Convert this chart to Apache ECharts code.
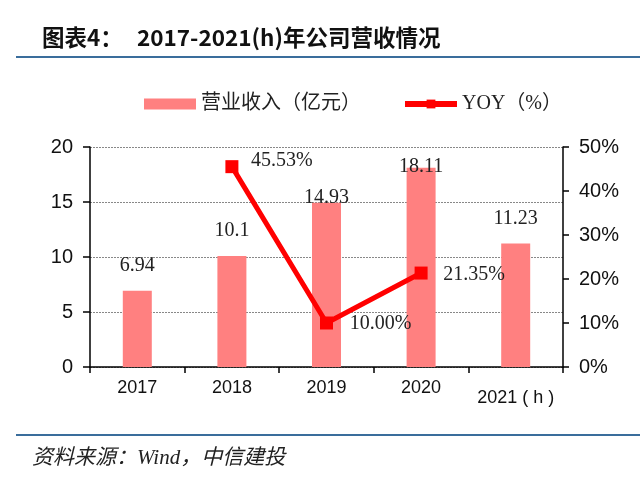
<!DOCTYPE html>
<html>
<head>
<meta charset="utf-8">
<script src="https://cdn.jsdelivr.net/npm/echarts@6/dist/echarts.min.js"></script>
<style>
  html, body { margin: 0; padding: 0; background: #fff; }
  #chart { width: 640px; height: 495px; }
</style>
</head>
<body>
<div id="chart"></div>
<script>
// data
var years = ['2017', '2018', '2019', '2020', '2021 ( h )'];
var revenue = [6.94, 10.1, 14.93, 18.11, 11.23];
var yoy = [null, 45.53, 10.00, 21.35, null];

// label nudges, the source chart placed these by hand
var barLabelLift = [15, 15, -5, -9, 15];
var yoyLabelShift = [[0, 0], [50, -6], [54, 1], [53, 2], [0, 0]];

var serif = '"Liberation Serif", "DejaVu Serif", "Noto Sans CJK SC", serif';
var sans = '"Liberation Sans", Arial, "Noto Sans CJK SC", sans-serif';
var cjkBold = '"Noto Sans CJK SC", sans-serif';

function buildBars() {
    return revenue.map(function (v, i) {
        return { value: v, label: { distance: barLabelLift[i] } };
    });
}

function buildYoy() {
    return yoy.map(function (v, i) {
        return { value: v, label: { offset: yoyLabelShift[i] } };
    });
}

var myChart = echarts.init(document.getElementById('chart'));

var option = {
    backgroundColor: '#fff',
    animation: false,
    title: {
        text: '{a|图表4：}{b|2017-2021(h)年公司营收情况}',
        left: 37,
        top: 21,
        textStyle: {
            rich: {
                a: { fontFamily: cjkBold, fontWeight: 'bold', fontSize: 22.5, color: '#111', width: 95 },
                b: { fontFamily: cjkBold, fontWeight: 'bold', fontSize: 22.5, color: '#111' }
            }
        }
    },
    graphic: [
        { type: 'rect', shape: { x: 16, y: 56, width: 624, height: 2 }, style: { fill: '#3a6d9c' } },
        { type: 'rect', shape: { x: 16, y: 434, width: 624, height: 2 }, style: { fill: '#3a6d9c' } },
        {
            type: 'text', left: 32, top: 448,
            style: {
                text: '资料来源：Wind，中信建投',
                font: 'italic 21px "Liberation Serif", "Noto Sans CJK SC", serif',
                fill: '#222'
            }
        }
    ],
    legend: {
        top: 89,
        left: 139,
        itemGap: 41,
        textStyle: { fontFamily: serif, fontSize: 20, color: '#222' },
        data: [
            { name: '营业收入（亿元）', icon: 'rect', itemStyle: { color: '#ff8080' }, itemHeight: 8 },
            { name: 'YOY（%）', itemStyle: { color: '#ff0000' }, lineStyle: { width: 6 } }
        ],
        itemWidth: 52,
        itemHeight: 11
    },
    grid: { left: 90, right: 77, top: 147, bottom: 128 },
    xAxis: {
        type: 'category',
        data: years,
        axisLine: { lineStyle: { color: '#000', width: 1.5 } },
        axisTick: { show: true, length: 6, lineStyle: { color: '#000', width: 1.5 } },
        axisLabel: {
            interval: 0,
            margin: 12,
            fontFamily: sans,
            fontSize: 18,
            color: '#111',
            formatter: function (v, i) {
                return i === 4 ? '{h|' + v + '}' : v;
            },
            rich: { h: { fontFamily: sans, fontSize: 18, color: '#111', padding: [10, 0, 0, 0] } }
        }
    },
    yAxis: [
        {
            type: 'value',
            min: 0, max: 20, interval: 5,
            axisLine: { show: true, lineStyle: { color: '#000', width: 1.5 } },
            axisTick: { show: true, length: 7, lineStyle: { color: '#000', width: 1.5 } },
            axisLabel: { fontFamily: sans, fontSize: 20, color: '#111', margin: 17 },
            splitLine: { lineStyle: { color: '#888', type: [2, 1], width: 1 } }
        },
        {
            type: 'value',
            min: 0, max: 50, interval: 10,
            position: 'right',
            axisLine: { show: true, lineStyle: { color: '#000', width: 1.5 } },
            axisTick: { show: true, length: 6, lineStyle: { color: '#000', width: 1.5 } },
            axisLabel: { fontFamily: sans, fontSize: 20, color: '#111', margin: 16, formatter: '{value}%' },
            splitLine: { show: false }
        }
    ],
    series: [
        {
            name: '营业收入（亿元）',
            type: 'bar',
            data: buildBars(),
            barWidth: 29,
            itemStyle: { color: '#ff8080' },
            label: {
                show: true,
                position: 'top',
                fontFamily: serif,
                fontSize: 20,
                color: '#222'
            }
        },
        {
            name: 'YOY（%）',
            type: 'line',
            yAxisIndex: 1,
            data: buildYoy(),
            connectNulls: false,
            symbol: 'rect',
            symbolSize: 13,
            lineStyle: { color: '#ff0000', width: 5 },
            itemStyle: { color: '#ff0000' },
            label: {
                show: true,
                position: 'inside',
                fontFamily: serif,
                fontSize: 20,
                color: '#222',
                formatter: function (p) { return p.value.toFixed(2) + '%'; }
            }
        }
    ]
};

myChart.setOption(option);
</script>
</body>
</html>
